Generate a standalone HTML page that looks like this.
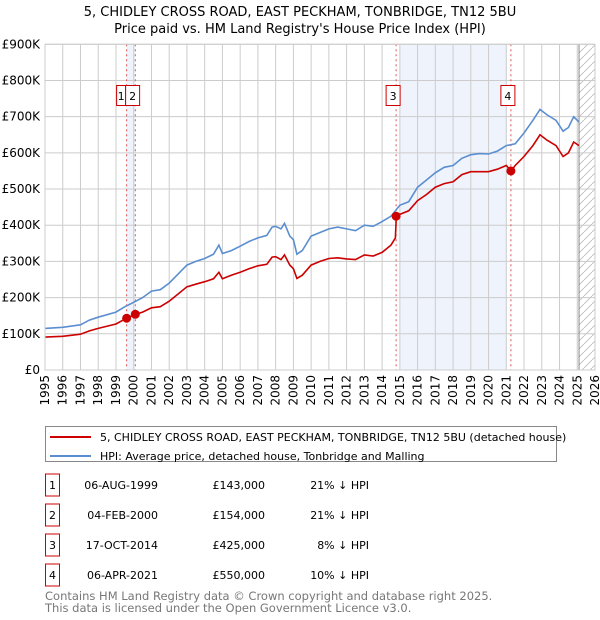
<!DOCTYPE html>
<html><head><meta charset="utf-8"><style>
body{margin:0;background:#fff;font-family:"Liberation Sans","DejaVu Sans",sans-serif;}
svg{display:block}
</style></head><body>
<svg id="chart" width="600" height="620" xmlns="http://www.w3.org/2000/svg">
<text x="300" y="16" text-anchor="middle" font-size="13" font-family="DejaVu Sans, sans-serif">5, CHIDLEY CROSS ROAD, EAST PECKHAM, TONBRIDGE, TN12 5BU</text>
<text x="300" y="33" text-anchor="middle" font-size="13" font-family="DejaVu Sans, sans-serif">Price paid vs. HM Land Registry's House Price Index (HPI)</text>
<g id="plot"></g>
<g>
<rect x="45.5" y="426.5" width="511" height="35" fill="#fff" stroke="#888"/>
<line x1="50" y1="437" x2="91" y2="437" stroke="#cc0000" stroke-width="2"/>
<text x="100" y="441" font-size="11" font-family="DejaVu Sans, sans-serif">5, CHIDLEY CROSS ROAD, EAST PECKHAM, TONBRIDGE, TN12 5BU (detached house)</text>
<line x1="50" y1="456" x2="91" y2="456" stroke="#5b8ed0" stroke-width="2"/>
<text x="100" y="460" font-size="11" font-family="DejaVu Sans, sans-serif">HPI: Average price, detached house, Tonbridge and Malling</text>
</g>
<g id="table" font-size="11" font-family="DejaVu Sans, sans-serif"></g>
<text x="45" y="600" font-size="11.5" fill="#777" font-family="DejaVu Sans, sans-serif">Contains HM Land Registry data © Crown copyright and database right 2025.</text>
<text x="45" y="612" font-size="11.5" fill="#777" font-family="DejaVu Sans, sans-serif">This data is licensed under the Open Government Licence v3.0.</text>
</svg>
<script>
const yTicks=[0,100,200,300,400,500,600,700,800,900];
const yTickLabels=["£0","£100K","£200K","£300K","£400K","£500K","£600K","£700K","£800K","£900K"];
const hpiT=[1995,1996,1997,1997.5,1998,1999,1999.5,2000,2000.5,2001,2001.5,2002,2002.5,2003,2003.5,2004,2004.5,2004.8,2005,2005.5,2006,2006.5,2007,2007.5,2007.8,2008,2008.3,2008.5,2008.8,2009,2009.2,2009.5,2010,2010.5,2011,2011.5,2012,2012.5,2013,2013.5,2014,2014.5,2015,2015.5,2016,2016.5,2017,2017.5,2018,2018.5,2019,2019.5,2020,2020.5,2021,2021.5,2022,2022.5,2022.9,2023.3,2023.8,2024.2,2024.5,2024.8,2025.1];
const hpiV=[115,118,125,138,146,160,175,187,200,218,222,240,265,290,300,308,320,345,322,330,342,355,365,372,395,397,390,405,370,360,320,330,370,380,390,395,390,385,400,397,410,425,455,465,505,525,545,560,565,585,595,598,597,605,620,625,655,690,720,705,690,660,670,700,685];
const redT=[1995,1996,1997,1997.5,1998,1999,1999.6,2000.1,2000.5,2001,2001.5,2002,2002.5,2003,2003.5,2004,2004.5,2004.8,2005,2005.5,2006,2006.5,2007,2007.5,2007.8,2008,2008.3,2008.5,2008.8,2009,2009.2,2009.5,2010,2010.5,2011,2011.5,2012,2012.5,2013,2013.5,2014,2014.5,2014.75,2014.8,2015,2015.5,2016,2016.5,2017,2017.5,2018,2018.5,2019,2019.5,2020,2020.5,2021,2021.27,2021.5,2022,2022.5,2022.9,2023.3,2023.8,2024.2,2024.5,2024.8,2025.1];
const redV=[91,93,99,108,115,127,143,154,160,172,175,190,210,230,237,244,252,270,252,262,270,280,288,292,312,313,305,318,290,280,253,262,290,300,308,310,307,305,318,315,325,345,365,425,430,440,468,485,505,515,520,540,548,548,548,555,565,550,565,590,620,650,635,620,590,600,630,620];
const saleLabels=["1","2","3","4"];
const saleT=[1999.6,2000.09,2014.79,2021.26];
const saleV=[143,154,425,550];
const saleDates=["06-AUG-1999","04-FEB-2000","17-OCT-2014","06-APR-2021"];
const salePrices=["£143,000","£154,000","£425,000","£550,000"];
const saleDiffs=["21% ↓ HPI","21% ↓ HPI","8% ↓ HPI","10% ↓ HPI"];

const NS="http://www.w3.org/2000/svg";
const X0=45,X1=595,Y0=370,Y1=44.3;
const xs=t=>X0+(t-1995)/(2026-1995)*(X1-X0);
const ys=v=>Y0-v/900*(Y0-Y1);
const g=document.getElementById('plot');
function mk(tag,at,parent){const e=document.createElementNS(NS,tag);for(const k in at)e.setAttribute(k,at[k]);(parent||g).appendChild(e);return e;}
let s1=mk('rect',{x:xs(saleT[0]),y:Y1,width:xs(saleT[1])-xs(saleT[0]),height:Y0-Y1,fill:'#eef3fc'});


let s2=mk('rect',{x:xs(2015),y:Y1,width:xs(2021)-xs(2015),height:Y0-Y1,fill:'#eef3fc'});


const defs=mk('defs',{});
const pat=mk('pattern',{id:'hatch',width:8,height:8,patternUnits:'userSpaceOnUse'},defs);
mk('path',{d:'M0,8 L8,0',stroke:'#bbb','stroke-width':0.8},pat);
let h=mk('rect',{x:xs(2025.1),y:Y1,width:X1-xs(2025.1),height:Y0-Y1,fill:'url(#hatch)'});


for(let yr=1995;yr<=2026;yr++){
  const l=mk('line',{x1:xs(yr),x2:xs(yr),y1:Y1,y2:Y0,stroke:'#ccc','stroke-width':1});
  
  
  const t=mk('text',{x:0,y:0,transform:`translate(${xs(yr)+4},${Y0+5}) rotate(-90)`,'text-anchor':'end','font-size':12,'font-family':'DejaVu Sans, sans-serif'});
  t.textContent=yr;
  
  
}
yTicks.forEach((v,i)=>{
  const l=mk('line',{x1:X0,x2:X1,y1:ys(v),y2:ys(v),stroke:'#ccc','stroke-width':1});
  
  
  const t=mk('text',{x:40,y:ys(v)+4,'text-anchor':'end','font-size':12,'font-family':'DejaVu Sans, sans-serif'});
  t.textContent=yTickLabels[i];
  
  
});
let nl=mk('line',{x1:xs(2025.1),x2:xs(2025.1),y1:Y1,y2:Y0,stroke:'#888','stroke-width':1});


saleT.forEach((t,i)=>{
  const l=mk('line',{x1:xs(t),x2:xs(t),y1:Y1,y2:Y0,stroke:'#e05555','stroke-width':1,'stroke-dasharray':'2,3'});
  
  
});
function path(T,V){return T.map((t,i)=>(i?'L':'M')+xs(t).toFixed(1)+','+ys(V[i]).toFixed(1)).join(' ');}
let hp=mk('path',{d:path(hpiT,hpiV),fill:'none',stroke:'#5b8ed0','stroke-width':1.6});


let rp=mk('path',{d:path(redT,redV),fill:'none',stroke:'#cc0000','stroke-width':1.6});


saleT.forEach((t,i)=>{
  const c=mk('circle',{cx:xs(t),cy:ys(saleV[i]),r:4.5,fill:'#cc0000'});
  
  
  let bx,bw,tx0;
  if(i===0){bx=xs(t)-10;bw=9;tx0=xs(t)-5.5;}
  else if(i===1){bx=xs(saleT[0])-1;bw=14;tx0=xs(saleT[0])+6;}
  else {bx=xs(t)-10;bw=14;tx0=xs(t)-3;}
  const b=mk('rect',{x:bx,y:85.5,width:bw,height:20,fill:'#fff',stroke:'#cc0000'});
  
  
  const tx=mk('text',{x:tx0,y:100,'text-anchor':'middle','font-size':11,'font-family':'DejaVu Sans, sans-serif'});
  tx.textContent=saleLabels[i];
  
  
});
mk('rect',{x:X0,y:Y1,width:X1-X0,height:Y0-Y1,fill:'none',stroke:'#ccc'});
const tb=document.getElementById('table');
saleLabels.forEach((lab,i)=>{
  const y=488+i*30;
  const r=mk('rect',{x:45.5,y:y-14,width:14,height:22,fill:'#fff',stroke:'#cc0000'},tb);
  
  
  const vals=[[lab,52.5,'middle'],[saleDates[i],158,'end'],[salePrices[i],265,'end'],[saleDiffs[i],369,'end']];
  vals.forEach(([txt,x,a])=>{
    const t=mk('text',{x:x,y:y+1,'text-anchor':a},tb);
    t.textContent=txt;
    
    
  });
});
</script>
</body></html>
